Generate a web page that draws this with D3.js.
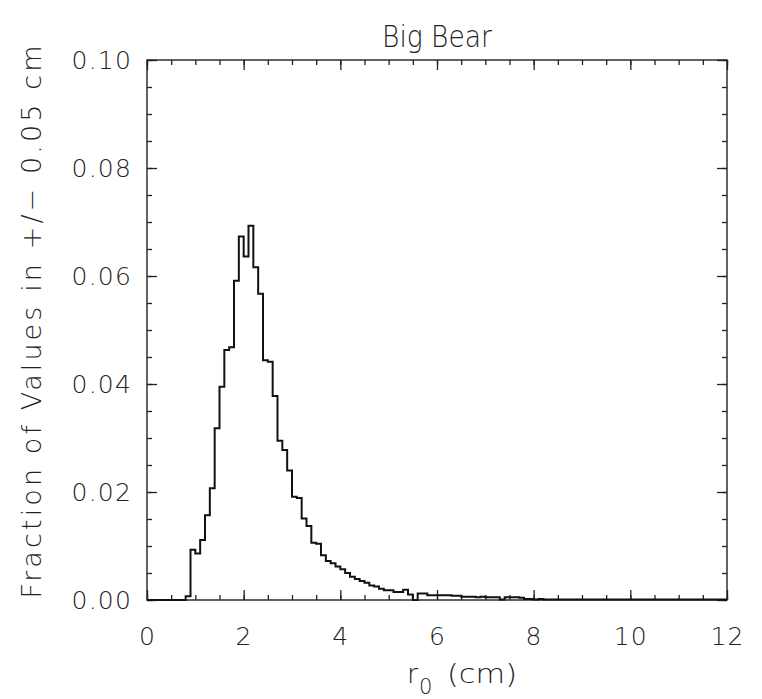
<!DOCTYPE html>
<html><head>
<meta charset="utf-8">
<title>Big Bear</title>
<script src="https://d3js.org/d3.v7.min.js"></script>
<style>
body { margin: 0; background: #fff; }
text { font-family: "DejaVu Sans", sans-serif; font-weight: 200; fill: #222; }
</style>
</head>
<body>
<div id="chart"></div>
<script>
// histogram bins: left edge of each 0.1 cm bin
var binStart = [
  0.0, 0.1, 0.2, 0.3, 0.4, 0.5, 0.6, 0.7, 0.8, 0.9,
  1.0, 1.1, 1.2, 1.3, 1.4, 1.5, 1.6, 1.7, 1.8, 1.9,
  2.0, 2.1, 2.2, 2.3, 2.4, 2.5, 2.6, 2.7, 2.8, 2.9,
  3.0, 3.1, 3.2, 3.3, 3.4, 3.5, 3.6, 3.7, 3.8, 3.9,
  4.0, 4.1, 4.2, 4.3, 4.4, 4.5, 4.6, 4.7, 4.8, 4.9,
  5.0, 5.1, 5.2, 5.3, 5.4, 5.5, 5.6, 5.7, 5.8, 5.9,
  6.0, 6.1, 6.2, 6.3, 6.4, 6.5, 6.6, 6.7, 6.8, 6.9,
  7.0, 7.1, 7.2, 7.3, 7.4, 7.5, 7.6, 7.7, 7.8, 7.9,
  8.0, 8.1, 8.2, 8.3, 8.4, 8.5, 8.6, 8.7, 8.8, 8.9,
  9.0, 9.1, 9.2, 9.3, 9.4, 9.5, 9.6, 9.7, 9.8, 9.9,
  10.0, 10.1, 10.2, 10.3, 10.4, 10.5, 10.6, 10.7, 10.8, 10.9,
  11.0, 11.1, 11.2, 11.3, 11.4, 11.5, 11.6, 11.7, 11.8, 11.9
];
// fraction of values in each bin
var fraction = [
  0, 0, 0, 0, 0, 0, 0, 0, 0.0007, 0.0093,
  0.0086, 0.0111, 0.0157, 0.0207, 0.0318, 0.0395, 0.0463, 0.0468, 0.0591, 0.0673,
  0.0636, 0.0693, 0.0616, 0.0567, 0.0444, 0.0441, 0.0378, 0.0295, 0.0278, 0.0240,
  0.0191, 0.0189, 0.0151, 0.0137, 0.0106, 0.0104, 0.0083, 0.0072, 0.0068, 0.0062,
  0.0057, 0.0050, 0.0043, 0.0039, 0.0035, 0.0032, 0.0027, 0.0025, 0.0021, 0.0018,
  0.0018, 0.0015, 0.0015, 0.0019, 0.0010, 0.0000, 0.0012, 0.0012, 0.0009, 0.0009,
  0.0009, 0.0009, 0.0009, 0.0008, 0.0008, 0.0006, 0.0006, 0.0006, 0.0005, 0.0006,
  0.0005, 0.0005, 0.0005, 0.0001, 0.0005, 0.0005, 0.0005, 0.0004, 0.0002, 0.0002,
  0.0001, 0.0002, 0.0001, 0.0001, 0.0001, 0.0001, 0.0001, 0.0001, 0.0001, 0.0001,
  0.0001, 0.0001, 0.0001, 0.0001, 0.0001, 0.0001, 0.0001, 0.0001, 0.0001, 0.0001,
  0.0001, 0.0001, 0.0001, 0.0001, 0.0001, 0.0001, 0.0001, 0.0001, 0.0001, 0.0001,
  0.0001, 0.0001, 0.0001, 0.0001, 0.0001, 0.0001, 0.0001, 0.0001, 0.0001, 0.0001
];
var binWidth = 0.1;
var xTicks = [0, 2, 4, 6, 8, 10, 12];
var yTicks = [0.00, 0.02, 0.04, 0.06, 0.08, 0.10];

var W = 762, H = 699;
var margin = {top: 60, right: 35, bottom: 99, left: 147};
var width = W - margin.left - margin.right;
var height = H - margin.top - margin.bottom;

var svg = d3.select("#chart").append("svg")
    .attr("width", W)
    .attr("height", H);

var g = svg.append("g")
    .attr("transform", "translate(" + margin.left + "," + margin.top + ")");

var x = d3.scaleLinear().domain([0, 12]).range([0, width]);
var y = d3.scaleLinear().domain([0, 0.10]).range([height, 0]);

// tick marks only (labels handled separately)
function ticks(axis, vals, size) {
  return axis.tickValues(vals).tickSize(size).tickFormat("");
}
var xMinor = x.ticks(24), yMinor = y.ticks(20);

// minor ticks on all four sides
g.append("g").attr("transform", "translate(0," + height + ")")
  .call(ticks(d3.axisBottom(x), xMinor, -5));
g.append("g").call(ticks(d3.axisTop(x), xMinor, -5));
g.append("g").call(ticks(d3.axisLeft(y), yMinor, -5));
g.append("g").attr("transform", "translate(" + width + ",0)")
  .call(ticks(d3.axisRight(y), yMinor, -5));

// major ticks on top and right
g.append("g").call(ticks(d3.axisTop(x), xTicks, -10));
g.append("g").attr("transform", "translate(" + width + ",0)")
  .call(ticks(d3.axisRight(y), yTicks, -10));

// labelled axes
g.append("g").attr("class", "xaxis")
  .attr("transform", "translate(0," + height + ")")
  .call(d3.axisBottom(x).tickValues(xTicks).tickSize(-10).tickPadding(27)
    .tickFormat(d3.format("d")));

g.append("g").attr("class", "yaxis")
  .call(d3.axisLeft(y).tickValues(yTicks).tickSize(-10).tickPadding(15)
    .tickFormat(d3.format(".2f")));

g.selectAll(".domain").remove();
g.selectAll(".tick line").attr("stroke", "#222").attr("stroke-width", 1.3);
g.selectAll(".tick text")
  .style("font-family", "'DejaVu Sans', sans-serif")
  .style("font-weight", 200)
  .style("font-size", "25px")
  .style("letter-spacing", "1.2px")
  .attr("fill", "#222");

// frame
g.append("rect")
  .attr("width", width).attr("height", height)
  .attr("fill", "none").attr("stroke", "#222").attr("stroke-width", 1.4);

// histogram drawn as steps
var pts = binStart.map(function(s, i) { return [s, fraction[i]]; });
pts.push([binStart[binStart.length - 1] + binWidth, fraction[fraction.length - 1]]);

g.append("path")
  .datum(pts)
  .attr("fill", "none")
  .attr("stroke", "#111")
  .attr("stroke-width", 2)
  .attr("d", d3.line()
    .curve(d3.curveStepAfter)
    .x(function(d) { return x(d[0]); })
    .y(function(d) { return y(d[1]); }));

// title
svg.append("text")
  .attr("x", margin.left + width / 2)
  .attr("y", 47)
  .attr("text-anchor", "middle")
  .attr("textLength", 110)
  .attr("lengthAdjust", "spacingAndGlyphs")
  .style("font-size", "31px")
  .text("Big Bear");

// x label with subscript
svg.append("text").attr("x", 407).attr("y", 683)
  .style("font-size", "27px").text("r");
svg.append("text").attr("x", 419).attr("y", 694)
  .style("font-size", "21px").text("0");
svg.append("text").attr("x", 447).attr("y", 683)
  .attr("textLength", 70)
  .attr("lengthAdjust", "spacingAndGlyphs")
  .style("font-size", "27px").text("(cm)");

// y label
svg.append("text")
  .attr("transform", "translate(41,322) rotate(-90)")
  .attr("text-anchor", "middle")
  .attr("textLength", 553)
  .attr("lengthAdjust", "spacing")
  .style("font-size", "27px")
  .text("Fraction of Values in +/\u2212 0.05 cm");
</script>
</body></html>
